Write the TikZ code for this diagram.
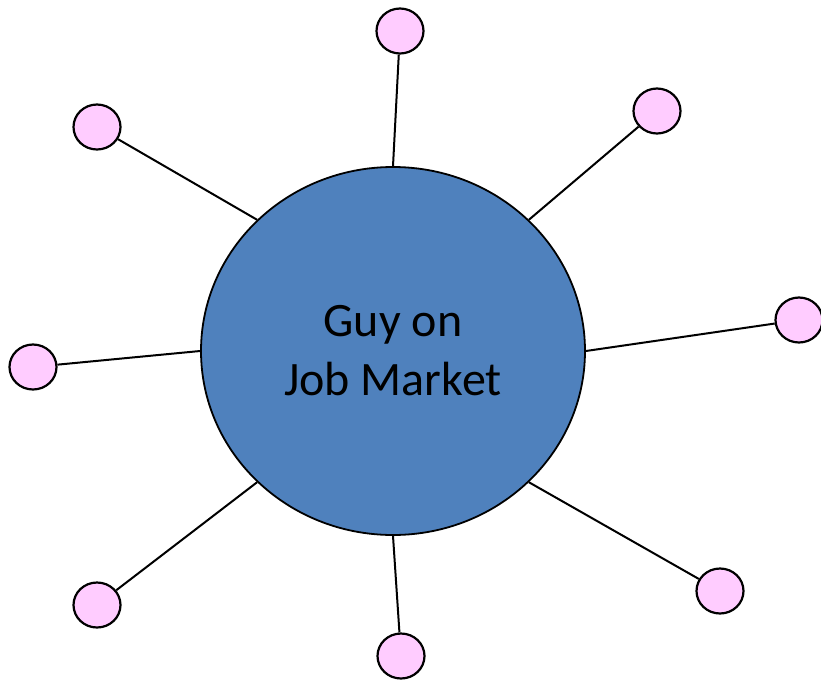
\documentclass[tikz,border=0pt]{standalone}
\usepackage{fontspec}
\setmainfont{Carlito}
\usepackage{xcolor}
\definecolor{colorHub}{HTML}{4F81BD}
\definecolor{colorPeer}{HTML}{FFCCFF}
\usetikzlibrary{shapes.geometric}
\tikzset{hub/.style={ellipse, draw=black, line width=1.8pt, fill=colorHub, minimum width=384pt, minimum height=368pt, inner sep=0pt, align=center, font=\fontsize{48}{59}\selectfont},
peer/.style={ellipse, draw=black, line width=2.2pt, fill=colorPeer, minimum width=47pt, minimum height=45pt, inner sep=0pt}}

\begin{document}
\begin{tikzpicture}[x=1pt, y=-1pt, line width=2pt]
\useasboundingbox (0,0) rectangle (821,680);
\node[hub] (g) at (393,351) {Guy on\\Job Market};
\node[peer] (p1) at (400,31) {};
\node[peer] (p2) at (657,111) {};
\node[peer] (p3) at (97,127) {};
\node[peer] (p4) at (799,320) {};
\node[peer] (p5) at (33,367) {};
\node[peer] (p6) at (97,605) {};
\node[peer] (p7) at (720,591) {};
\node[peer] (p8) at (401,656) {};
\draw (g.90) -- (p1);
\draw (g.44) -- (p2);
\draw (g.136) -- (p3);
\draw (g.0) -- (p4);
\draw (g.180) -- (p5);
\draw (g.224) -- (p6);
\draw (g.316) -- (p7);
\draw (g.270) -- (p8);
\end{tikzpicture}
\end{document}
